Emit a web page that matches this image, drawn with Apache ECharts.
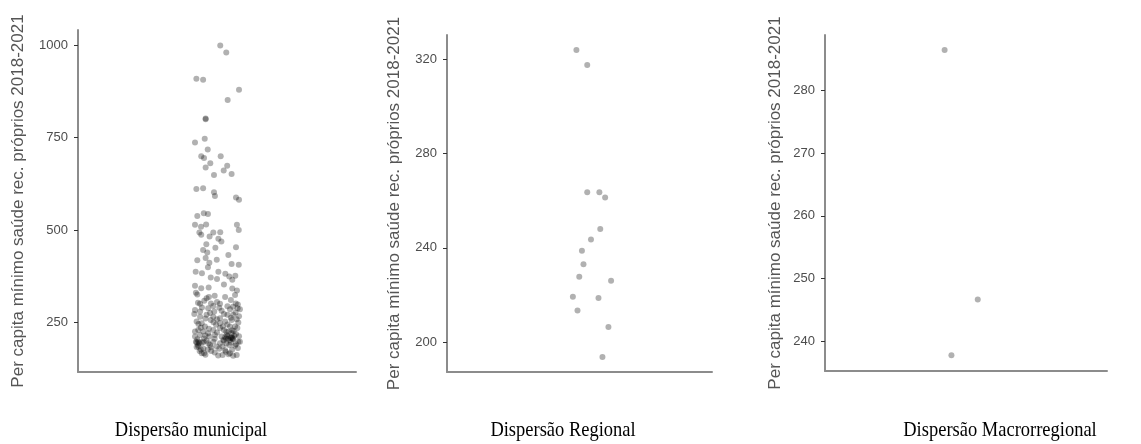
<!DOCTYPE html>
<html><head><meta charset="utf-8">
<script src="https://cdn.jsdelivr.net/npm/echarts@6/dist/echarts.min.js"></script>
<style>html,body{margin:0;padding:0;background:#fff}#c{width:1141px;height:444px}</style>
</head><body><div id="c"></div>
<script>
// ---- DATA ----
const panelTitles = ["Dispersão municipal", "Dispersão Regional", "Dispersão Macrorregional"];
const yTitle = "Per capita mínimo saúde rec. próprios 2018-2021";
const ticksMunicipal = [250, 500, 750, 1000];
const ticksRegional = [200, 240, 280, 320];
const ticksMacro = [240, 250, 260, 270, 280];

// municipal: jittered x position, value
const muniX = [1.014,1.040,0.911,0.940,1.095,1.046,0.951,0.951,0.947,0.905,0.960,0.932,0.944,1.016,0.971,0.951,1.044,1.029,1.063,0.987,
 0.911,0.940,0.987,0.991,1.082,1.095,0.915,0.943,0.961,0.905,0.931,0.953,0.924,0.932,0.984,1.014,0.968,1.006,1.019,1.086,
 1.094,0.954,0.993,1.082,0.940,0.958,1.049,0.915,0.951,0.967,0.999,1.063,1.094,0.961,0.908,0.935,0.973,1.006,1.036,1.053,
 1.079,1.000,1.066,0.905,0.932,0.964,1.030,1.066,1.086,0.909,1.078,
 0.955,0.965,0.918,0.927,0.974,1.013,0.984,1.081,1.069,0.905,0.927,0.962,0.988,1.020,1.056,1.089,1.099,0.927,0.955,0.984,
 1.013,1.045,1.070,0.912,0.934,0.948,0.973,0.996,1.013,1.035,1.063,1.085,0.919,0.941,0.962,0.984,1.013,1.030,1.056,1.078,
 1.088,0.905,0.927,0.944,0.967,0.991,1.020,1.042,1.063,1.082,0.909,0.924,0.941,0.962,0.984,1.013,1.027,1.049,1.068,1.092,
 1.099,0.919,0.941,0.970,0.999,1.024,1.053,1.078,0.934,0.944,1.024,1.056,1.070,1.085,
 1.045,1.060,1.040,0.912,0.920,1.050,1.062,1.070,0.930,0.975,1.035,
 0.915,0.990,1.035,1.060,0.945,1.000,1.090,0.935,1.010,1.045,0.902,0.970,1.030,1.080,0.950,1.000,1.060,1.095,0.920,0.985,
 1.045,1.092,0.930,0.965,1.025,1.065,0.905,0.950,1.000,1.040,1.072,1.095,0.915,0.955,0.990,1.035,1.075,1.066,
 0.918,0.935,0.975,1.010,1.040,1.060,1.082,0.925,0.960,0.990,1.038,1.065,1.090,0.950,1.005,1.050,0.912,1.030,1.055];
const muniY = [1000,981,910,907,880,852,802,800,747,737,718,700,695,700,681,669,674,661,652,649,
 611,613,602,592,588,582,538,545,543,514,509,515,493,487,493,494,482,476,469,514,
 500,461,452,453,446,439,432,418,424,411,419,408,406,399,387,383,371,387,381,374,
 376,367,365,349,342,344,352,341,336,330,324,
 315,318,303,300,301,300,294,301,292,283,279,288,279,281,285,288,285,265,270,265,
 261,270,270,252,247,238,256,243,247,252,256,258,229,225,220,229,234,229,238,238,
 234,211,215,206,211,215,211,215,220,218,197,193,197,193,197,193,202,206,204,197,
 197,184,179,188,184,184,188,186,166,166,161,166,159,161,
 212,208,206,195,198,224,210,205,176,172,174,
 325,322,318,310,308,305,298,290,289,293,272,275,272,276,260,258,262,266,245,250,
 244,249,235,232,238,228,225,214,222,224,226,212,204,200,205,209,213,207,
 188,194,182,178,192,195,190,172,176,168,170,175,180,162,160,163,183,200,201];

const regX = [0.986,1.035,1.035,1.090,1.116,1.094,1.052,1.011,1.018,0.999,1.143,0.970,1.086,0.991,1.131,1.104];
const regY = [323.8,317.5,263.6,263.6,261.3,248.0,243.5,238.8,233.1,227.8,226.1,219.3,218.8,213.5,206.5,193.8];

const macroX = [0.909, 1.050, 0.938];
const macroY = [286.4, 246.7, 237.8];

// ---- CHART ----
const pair = (xs, ys) => xs.map((x, i) => [x, ys[i]]);
const grids = [
  {left: 78, top: 30, width: 278, height: 342},
  {left: 447, top: 35, width: 265, height: 337},
  {left: 825, top: 35, width: 282, height: 336}
];
const yRanges = [[115, 1042, ticksMunicipal, 51], [187.4, 330.2, ticksRegional, 44], [235.3, 288.8, ticksMacro, 41]];
const titleX = [191, 563, 1000];
const axisFont = 'Liberation Sans, Arial, sans-serif';
const chart = echarts.init(document.getElementById('c'), null, {renderer: 'canvas'});
chart.setOption({
  animation: false,
  backgroundColor: '#fff',
  grid: grids,
  graphic: panelTitles.map((t, i) => ({
    type: 'text', x: titleX[i], y: 430, scaleX: 0.84,
    style: {text: t, align: 'center', verticalAlign: 'middle',
      font: '22px "Liberation Serif", "Times New Roman", serif', fill: '#000'}
  })),
  xAxis: grids.map((g, i) => ({
    type: 'value', gridIndex: i, min: 0.4, max: 1.6,
    axisLine: {show: true, onZero: false, lineStyle: {color: '#8c8c8c', width: 2}},
    axisTick: {show: false}, axisLabel: {show: false}, splitLine: {show: false}
  })),
  yAxis: yRanges.map((r, i) => ({
    type: 'value', gridIndex: i, min: r[0], max: r[1],
    name: yTitle, nameLocation: 'middle', nameGap: r[3],
    nameTextStyle: {fontFamily: axisFont, fontSize: 17, color: '#555'},
    axisLine: {show: true, onZero: false, lineStyle: {color: '#8c8c8c', width: 2}},
    axisTick: {show: true, length: 4, customValues: r[2], lineStyle: {color: '#333', width: 1}},
    axisLabel: {customValues: r[2], margin: 10, fontFamily: axisFont, fontSize: 13, color: '#4d4d4d',
      formatter: v => String(v)},
    splitLine: {show: false}
  })),
  series: [pair(muniX, muniY), pair(regX, regY), pair(macroX, macroY)].map((d, i) => ({
    type: 'scatter', xAxisIndex: i, yAxisIndex: i, data: d, symbolSize: 6,
    itemStyle: {color: 'rgba(0,0,0,0.38)'}
  }))
});
</script></body></html>
